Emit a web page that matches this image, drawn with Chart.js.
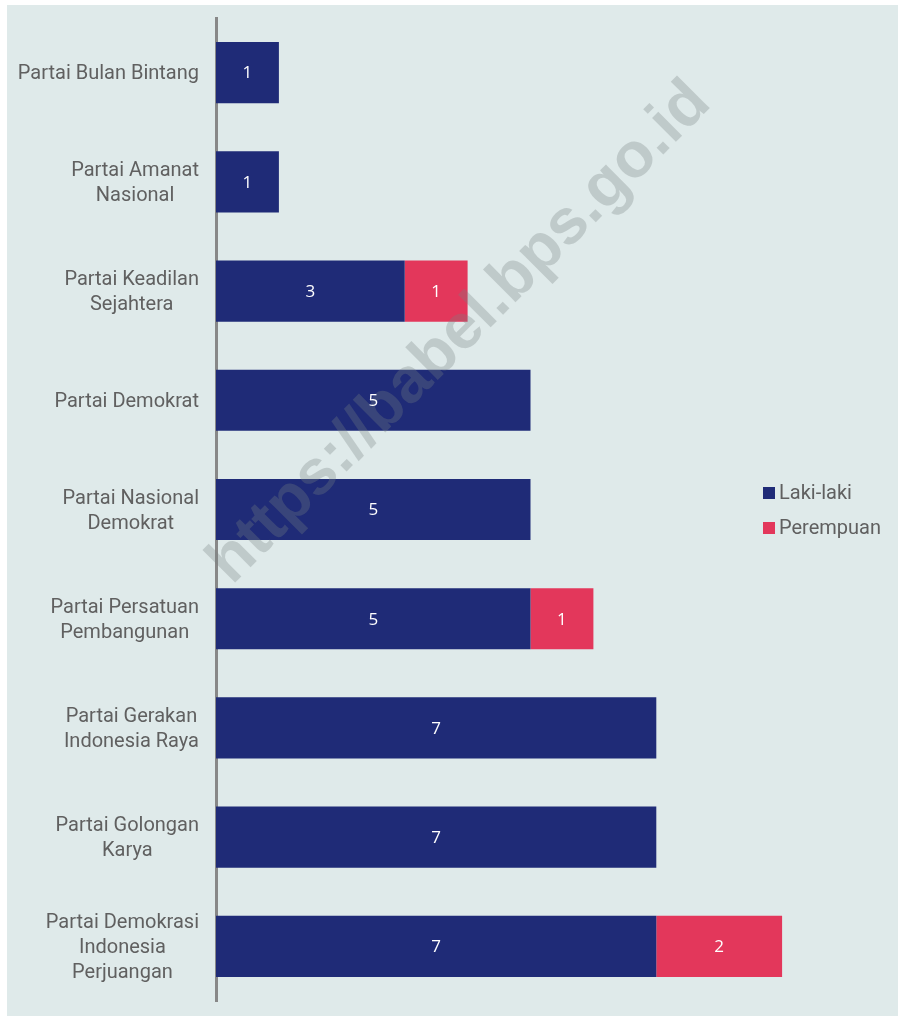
<!DOCTYPE html>
<html>
<head>
<meta charset="utf-8">
<script src="https://cdn.jsdelivr.net/npm/chart.js@4"></script>
<style>
  html, body { margin: 0; padding: 0; background: #fff; }
  #wrap { width: 898px; height: 1016px; }
</style>
</head>
<body>
<div id="wrap"><canvas id="chart" width="898" height="1016"></canvas></div>
<script>
// data
var parties = [
  ['Partai Bulan Bintang'],
  ['Partai Amanat', 'Nasional'],
  ['Partai Keadilan', 'Sejahtera'],
  ['Partai Demokrat'],
  ['Partai Nasional', 'Demokrat'],
  ['Partai Persatuan', 'Pembangunan'],
  ['Partai Gerakan', 'Indonesia Raya'],
  ['Partai Golongan', 'Karya'],
  ['Partai Demokrasi', 'Indonesia', 'Perjuangan']
];
var lakiLaki = [1, 1, 3, 5, 5, 5, 7, 7, 7];
var perempuan = [0, 0, 1, 0, 0, 1, 0, 0, 2];
var seriesNames = ['Laki-laki', 'Perempuan'];
var seriesColors = ['#1f2b77', '#e3375b'];
var watermark = 'https://babel.bps.go.id';

var textGray = '#606060';

// background panel
var bgPlugin = {
  id: 'bgPanel',
  beforeDraw: function (chart) {
    var ctx = chart.ctx;
    ctx.save();
    ctx.fillStyle = '#ffffff';
    ctx.fillRect(0, 0, chart.width, chart.height);
    ctx.fillStyle = '#dfeaea';
    ctx.fillRect(7, 5, chart.width - 7, chart.height - 5);
    ctx.restore();
  }
};

// diagonal watermark, under the value labels
function drawWatermark(chart) {
  var ctx = chart.ctx;
  ctx.save();
  ctx.font = 'bold 100px "Liberation Sans"';
  var w = ctx.measureText(watermark).width;
  var size = 100 * 680 / w;
  ctx.font = 'bold ' + size + 'px "Liberation Sans"';
  ctx.translate(460, 333);
  ctx.rotate(-Math.PI / 4);
  ctx.fillStyle = 'rgba(120,128,128,0.3)';
  ctx.textAlign = 'center';
  ctx.textBaseline = 'middle';
  ctx.fillText(watermark, 0, 0);
  ctx.restore();
}

// value labels inside segments
var valueLabels = {
  id: 'valueLabels',
  afterDatasetsDraw: function (chart) {
    drawWatermark(chart);
    var ctx = chart.ctx;
    ctx.save();
    ctx.font = '17px "Open Sans"';
    ctx.fillStyle = '#ffffff';
    ctx.textAlign = 'center';
    ctx.textBaseline = 'middle';
    chart.data.datasets.forEach(function (ds, di) {
      var meta = chart.getDatasetMeta(di);
      meta.data.forEach(function (bar, i) {
        var v = ds.data[i];
        if (!v) return;
        ctx.fillText(String(v), (bar.x + bar.base) / 2, bar.y + 1);
      });
    });
    ctx.restore();
  }
};

// category labels: block right-aligned, lines centred inside the block
var catLabels = {
  id: 'catLabels',
  afterDraw: function (chart) {
    var ctx = chart.ctx;
    var yScale = chart.scales.y;
    var right = 199, lineH = 25;
    ctx.save();
    ctx.font = '20px Roboto';
    ctx.fillStyle = textGray;
    ctx.textBaseline = 'middle';
    ctx.textAlign = 'center';
    parties.forEach(function (lines, i) {
      var w = 0;
      lines.forEach(function (l) { w = Math.max(w, ctx.measureText(l).width); });
      var cx = right - w / 2;
      var cy = yScale.getPixelForTick(i) + 1.5;
      var y0 = cy - (lines.length - 1) * lineH / 2;
      lines.forEach(function (l, k) { ctx.fillText(l, cx, y0 + k * lineH); });
    });
    ctx.restore();
  }
};

// legend drawn inside the plot
var legendPlugin = {
  id: 'sideLegend',
  afterDraw: function (chart) {
    var ctx = chart.ctx;
    ctx.save();
    ctx.font = '20px Roboto';
    ctx.textBaseline = 'middle';
    ctx.textAlign = 'left';
    seriesNames.forEach(function (name, i) {
      var y = 493 + i * 35;
      ctx.fillStyle = seriesColors[i];
      ctx.fillRect(763, y - 6, 12, 12);
      ctx.fillStyle = textGray;
      ctx.fillText(name, 779, y + 1);
    });
    ctx.restore();
  }
};

var ctx = document.getElementById('chart').getContext('2d');
new Chart(ctx, {
  type: 'bar',
  data: {
    labels: parties.map(function (p) { return p.join(' '); }),
    datasets: [{
      label: seriesNames[0],
      data: lakiLaki,
      backgroundColor: seriesColors[0],
      barPercentage: 0.56,
      categoryPercentage: 1
    }, {
      label: seriesNames[1],
      data: perempuan,
      backgroundColor: seriesColors[1],
      barPercentage: 0.56,
      categoryPercentage: 1
    }]
  },
  options: {
    indexAxis: 'y',
    responsive: false,
    animation: false,
    layout: { padding: { left: 216, right: 53, top: 18, bottom: 15 } },
    plugins: {
      legend: { display: false },
      tooltip: { enabled: false }
    },
    scales: {
      x: {
        stacked: true,
        min: 0,
        max: 10,
        display: false
      },
      y: {
        stacked: true,
        grid: { display: false },
        border: { display: true, color: '#888888', width: 3 },
        ticks: { display: false },
        afterFit: function (s) { s.width = 0; }
      }
    }
  },
  plugins: [bgPlugin, valueLabels, catLabels, legendPlugin]
});
</script>
</body>
</html>
